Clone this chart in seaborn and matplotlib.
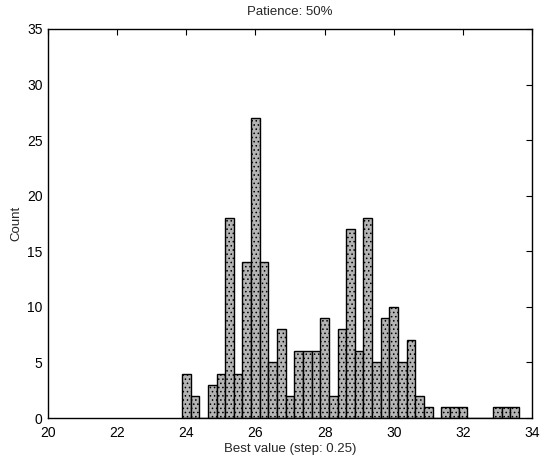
import numpy as np
import pandas as pd
import matplotlib
matplotlib.use("Agg")
import matplotlib.pyplot as plt
import seaborn as sns

# Bin centres (step 0.25) and counts
bin_centers = [24.0, 24.25, 24.5, 24.75, 25.0, 25.25, 25.5, 25.75, 26.0, 26.25,
               26.5, 26.75, 27.0, 27.25, 27.5, 27.75, 28.0, 28.25, 28.5, 28.75,
               29.0, 29.25, 29.5, 29.75, 30.0, 30.25, 30.5, 30.75, 31.0, 31.25,
               31.5, 31.75, 32.0, 32.25, 32.5, 32.75, 33.0, 33.25, 33.5]
counts = [4, 2, 0, 3, 4, 18, 4, 14, 27, 14,
          5, 8, 2, 6, 6, 6, 9, 2, 8, 17,
          6, 18, 5, 9, 10, 5, 7, 2, 1, 0,
          1, 1, 1, 0, 0, 0, 1, 1, 1]
x_ticks = [20, 22, 24, 26, 28, 30, 32, 34]
y_ticks = [0, 5, 10, 15, 20, 25, 30, 35]
title = "Patience: 50%"
xlabel = "Best value (step: 0.25)"
ylabel = "Count"
step = 0.25

sns.set_style("white")
plt.rcParams['font.family'] = ['Liberation Sans', 'DejaVu Sans']
plt.rcParams['hatch.color'] = '#7a7a7a'
plt.rcParams['hatch.linewidth'] = 0.6

df = pd.DataFrame({"value": bin_centers, "count": counts})

fig = plt.figure(figsize=(5.41, 4.58), dpi=100)
ax = fig.add_axes([48 / 541, 1 - 418 / 458, 484 / 541, 389 / 458])

sns.histplot(data=df, x="value", weights="count", binwidth=step,
             binrange=(min(bin_centers) - step / 2, max(bin_centers) + step / 2),
             ax=ax, color="#b4b4b4", edgecolor="black", linewidth=1.0,
             alpha=1.0, hatch="....")

ax.set_xlim(20, 34)
ax.set_ylim(0, 35)
ax.set_xticks(x_ticks)
ax.set_yticks(y_ticks)
ax.tick_params(direction="in", length=4, width=0.8, top=True, right=True,
               labelsize=10, colors="black")
ax.tick_params(axis="x", pad=6)
ax.tick_params(axis="y", pad=4)
for s in ax.spines.values():
    s.set_visible(True)
    s.set_color("black")
    s.set_linewidth(1.0)
ax.set_title(title, fontsize=9.5, pad=10)
ax.set_xlabel(xlabel, fontsize=9.5, labelpad=2)
ax.set_ylabel(ylabel, fontsize=9.5, labelpad=3)

fig.savefig("out.png", dpi=100)
